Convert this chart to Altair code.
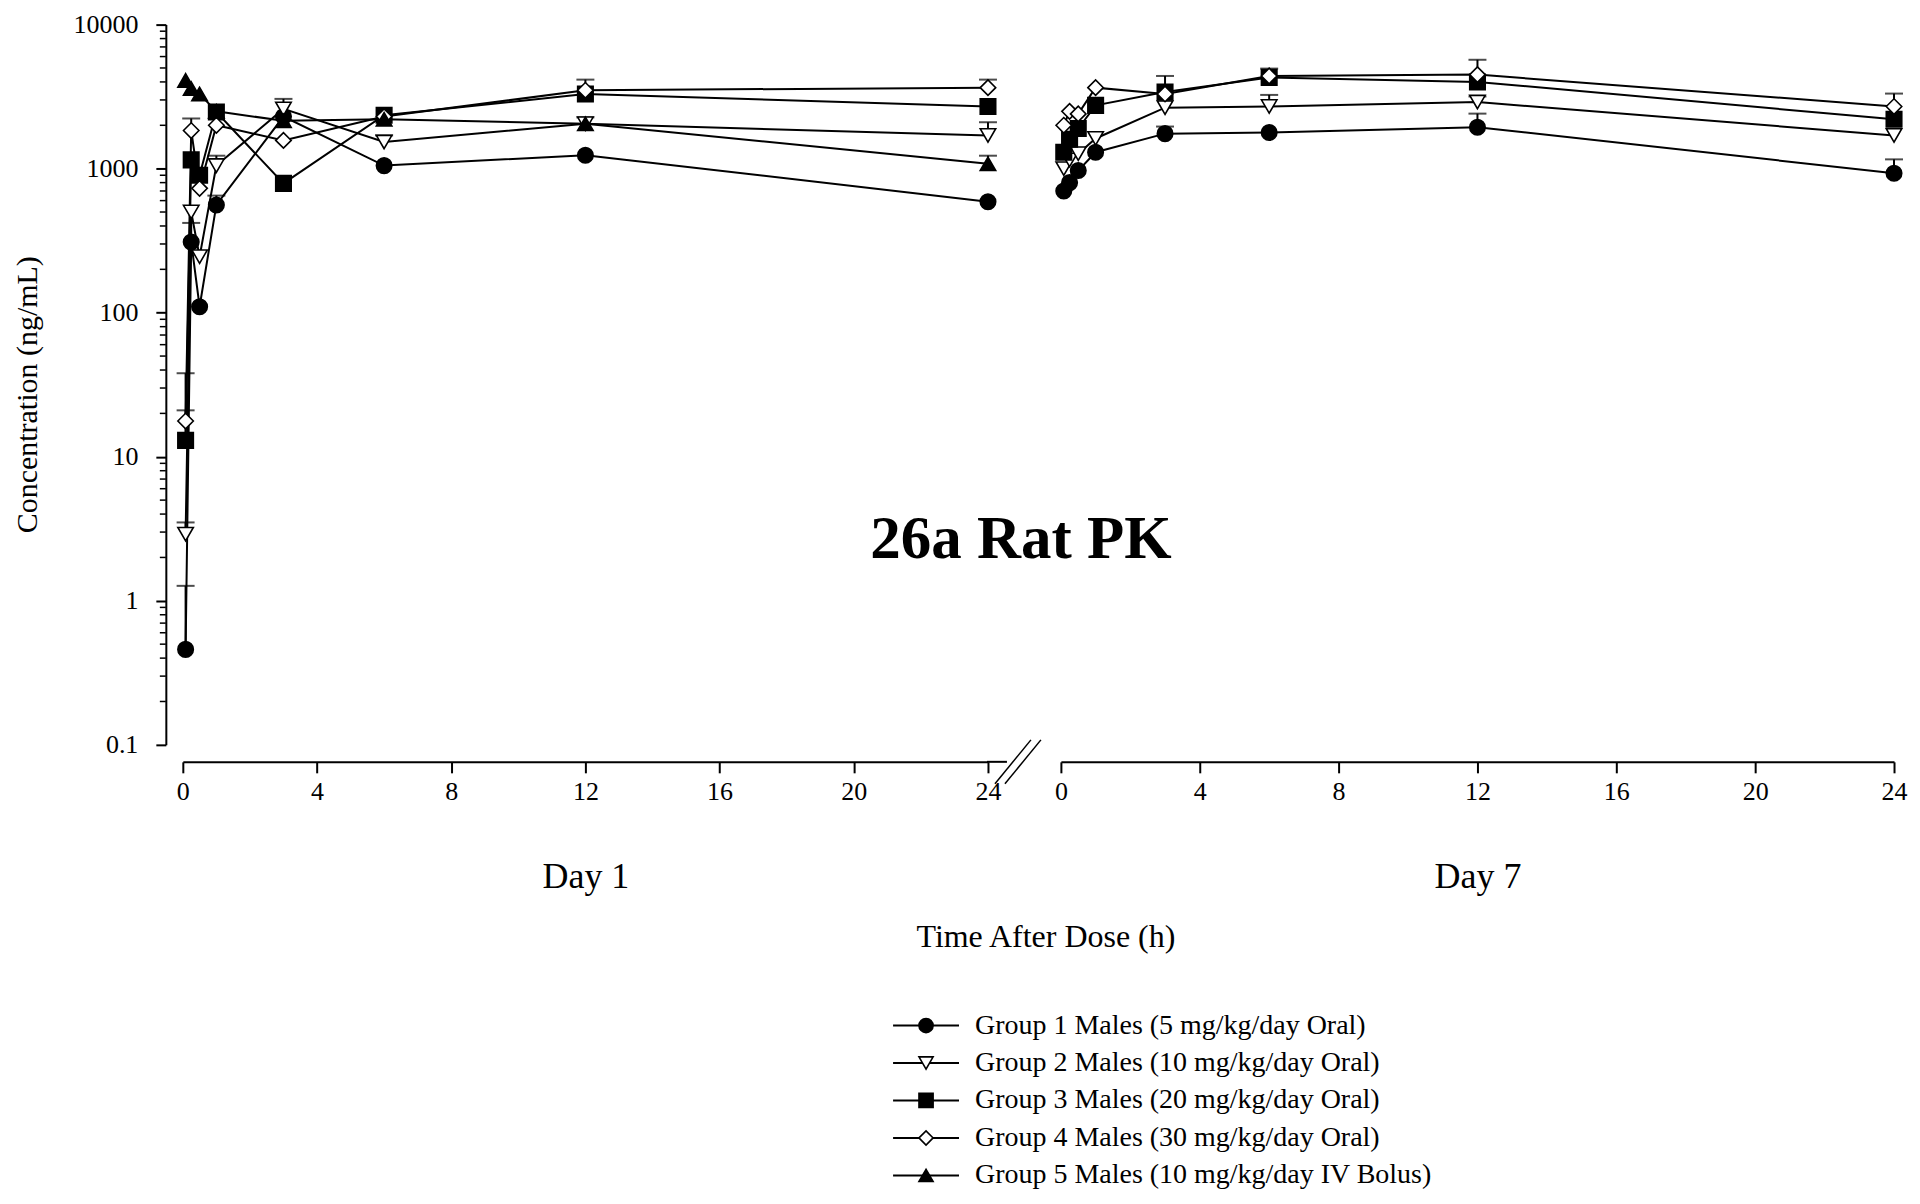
import altair as alt
import pandas as pd

# ---------------- data ----------------
groups = [
    "Group 1 Males (5 mg/kg/day Oral)",
    "Group 2 Males (10 mg/kg/day Oral)",
    "Group 3 Males (20 mg/kg/day Oral)",
    "Group 4 Males (30 mg/kg/day Oral)",
    "Group 5 Males (10 mg/kg/day IV Bolus)",
]
times = [0.083, 0.25, 0.5, 1, 3, 6, 12, 24]

# Day 1 means (ng/mL)
d1_g1 = [0.46, 310, 110, 560, 2300, 1050, 1240, 590]
d1_g2 = [2.9, 500, 245, 1050, 2600, 1530, 2050, 1700]
d1_g3 = [13, 1150, 900, 2470, 790, 2350, 3300, 2700]
d1_g4 = [17.7, 1840, 730, 2000, 1570, 2300, 3500, 3650]
d1_g5 = [4100, 3600, 3300, 2500, 2150, 2200, 2050, 1080]
# Day 1 upper error (mean + SD), None = not visible
d1_u1 = [1.27, 420, None, 650, None, None, None, None]
d1_u2 = [3.5, None, None, 1230, 3050, 1700, 2270, 2100]
d1_u3 = [38, None, None, None, None, None, None, None]
d1_u4 = [21, 2230, None, None, None, None, 4150, 4150]
d1_u5 = [None, None, None, None, None, None, None, 1230]

# Day 7 means (ng/mL)
d7_g1 = [700, 800, 970, 1300, 1750, 1780, 1940, 930]
d7_g2 = [1000, 1150, 1270, 1620, 2650, 2700, 2900, 1700]
d7_g3 = [1300, 1600, 1900, 2750, 3400, 4300, 4000, 2200]
d7_g4 = [2000, 2500, 2400, 3650, 3300, 4400, 4500, 2700]
d7_u1 = [None, None, None, None, 1960, None, 2410, 1160]
d7_u2 = [None, None, None, None, None, 3250, 3170, None]
d7_u3 = [None, None, None, None, None, None, None, None]
d7_u4 = [None, None, None, None, 4400, 4950, 5700, 3320]

y_major = [0.1, 1, 10, 100, 1000, 10000]
x_ticks = [0, 4, 8, 12, 16, 20, 24]

shapes_plot = ["circle", "triangle-down", "square", "diamond", "triangle-up"]
fills = ["black", "white", "black", "white", "black"]


def build(day_series, day_uppers):
    rows = []
    for g, vals, ups in zip(groups, day_series, day_uppers):
        for t, v, u in zip(times, vals, ups):
            rows.append({"group": g, "t": t, "value": v, "upper": u})
    return pd.DataFrame(rows)


df1 = build([d1_g1, d1_g2, d1_g3, d1_g4, d1_g5], [d1_u1, d1_u2, d1_u3, d1_u4, d1_u5])
df7 = build([d7_g1, d7_g2, d7_g3, d7_g4], [d7_u1, d7_u2, d7_u3, d7_u4])

W, H = 1732, 721
FONT = "Liberation Serif"


def yscale():
    return alt.Scale(type="log", domain=[0.1, 10000], nice=False)


y_axis = alt.Axis(
    values=y_major, orient="left",
    labelExpr="datum.value < 1 ? '0.1' : format(datum.value, 'd')",
    title="Concentration (ng/mL)",
    tickSize=10, tickWidth=2, domainWidth=2,
    labelFontSize=26, titleFontSize=30, labelPadding=18, titlePadding=30,
    titleY=370, grid=False,
)

shape_scale = alt.Scale(domain=groups, range=shapes_plot)
fill_scale = alt.Scale(domain=groups, range=fills)


def day_layer(df, rng, title, yaxis):
    xs = alt.Scale(domain=[0, 24], range=rng, nice=False, zero=False)
    xa = alt.Axis(values=x_ticks, title=title, orient="bottom", offset=17,
                  tickSize=11, tickWidth=2, domainWidth=2, labelFontSize=26,
                  titleFontSize=36, labelPadding=6, titlePadding=55,
                  grid=False, format="d", labelFlush=False, labelOverlap=False)
    X = alt.X("t:Q", scale=xs, axis=xa)
    Y = alt.Y("value:Q", scale=yscale(), axis=yaxis)
    base = alt.Chart(df)
    lines = base.mark_line(color="black", strokeWidth=2).encode(
        x=X, y=Y, detail="group:N", order="t:Q")
    err = base.transform_filter("isValid(datum.upper)")
    stems = err.mark_rule(color="black", strokeWidth=2).encode(
        x=X, y=Y, y2="upper:Q")
    caps = err.mark_tick(color="black", orient="horizontal", size=18,
                         thickness=2).encode(
        x=X, y=alt.Y("upper:Q", scale=yscale(), axis=yaxis))
    pts = base.mark_point(stroke="black", strokeWidth=1.6, size=240,
                          opacity=1).encode(
        x=X, y=Y,
        shape=alt.Shape("group:N", scale=shape_scale, legend=None),
        fill=alt.Fill("group:N", scale=fill_scale, legend=None),
    )
    return alt.layer(lines, stems, caps, pts)


day1 = day_layer(df1, [17, 823], "Day 1", y_axis)
day7 = day_layer(df7, [896, 1730], "Day 7", None)

# minor log ticks on the y axis
minor_vals = [d * k for d in [0.1, 1, 10, 100, 1000] for k in range(2, 10)]
minor = alt.Chart(pd.DataFrame({"value": minor_vals})).mark_rule(
    color="black", strokeWidth=1.5).encode(
    x=alt.value(-6), x2=alt.value(0),
    y=alt.Y("value:Q", scale=yscale(), axis=None))

one = pd.DataFrame({"a": [0]})
axis_ext = alt.Chart(one).mark_rule(color="black", strokeWidth=2).encode(
    x=alt.value(822), x2=alt.value(842), y=alt.value(H + 17))
brk1 = alt.Chart(one).mark_rule(color="black", strokeWidth=1.5).encode(
    x=alt.value(830), x2=alt.value(866), y=alt.value(H + 39), y2=alt.value(H - 5))
brk2 = alt.Chart(one).mark_rule(color="black", strokeWidth=1.5).encode(
    x=alt.value(840), x2=alt.value(876), y=alt.value(H + 39), y2=alt.value(H - 5))

title_txt = alt.Chart(pd.DataFrame({"txt": ["26a Rat PK"]})).mark_text(
    font=FONT, fontSize=61, fontWeight="bold", color="black",
    align="center", baseline="middle").encode(
    x=alt.value(856), y=alt.value(516), text="txt:N")
xtitle = alt.Chart(pd.DataFrame({"txt": ["Time After Dose (h)"]})).mark_text(
    font=FONT, fontSize=32, color="black", align="center", baseline="middle").encode(
    x=alt.value(881), y=alt.value(913), text="txt:N")

# ---------------- legend (rows placed through its own scale) ----------------
leg_df = pd.DataFrame({"group": groups, "row": list(range(len(groups)))})
Yl = alt.Y("row:Q", scale=alt.Scale(domain=[0, 4], range=[1002, 1152]), axis=None)
leg_base = alt.Chart(leg_df)
leg_lines = leg_base.mark_rule(color="black", strokeWidth=2).encode(
    x=alt.value(728), x2=alt.value(794), y=Yl)
leg_pts = leg_base.mark_point(stroke="black", strokeWidth=1.6, size=200,
                              opacity=1).encode(
    x=alt.value(761), y=Yl,
    shape=alt.Shape("group:N", scale=shape_scale, legend=None),
    fill=alt.Fill("group:N", scale=fill_scale, legend=None),
)
leg_text = leg_base.mark_text(font=FONT, fontSize=28, color="black",
                              align="left", baseline="middle").encode(
    x=alt.value(810), y=Yl, text="group:N")
legend = alt.layer(leg_lines, leg_pts, leg_text)

chart = alt.layer(
    day1, minor, day7, axis_ext, brk1, brk2, title_txt, xtitle, legend
).resolve_scale(
    x="independent", y="independent", shape="independent", fill="independent"
).properties(
    width=W, height=H,
    padding={"left": 5, "top": 3, "right": 5, "bottom": 5},
).configure_view(stroke=None).configure_axis(
    labelFont=FONT, titleFont=FONT, labelColor="black", titleColor="black",
    domainColor="black", tickColor="black", titleFontWeight="normal",
)

chart.save("out.html", embed_options={"renderer": "svg", "actions": False})
